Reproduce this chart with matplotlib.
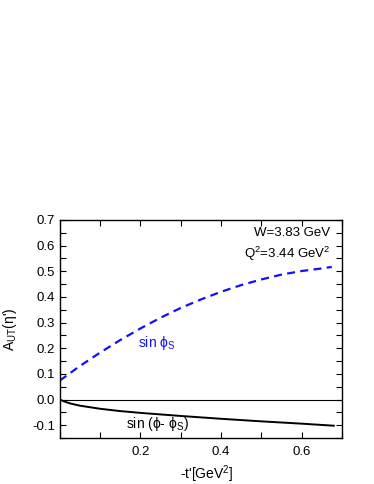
import matplotlib
matplotlib.use("Agg")
import matplotlib.pyplot as plt
from matplotlib.ticker import MultipleLocator, FormatStrFormatter

plt.rcParams["font.family"] = ["Liberation Sans", "DejaVu Sans"]
plt.rcParams["mathtext.fontset"] = "custom"
plt.rcParams["mathtext.rm"] = "Liberation Sans"
plt.rcParams["mathtext.it"] = "Liberation Sans:italic"

# values
t_sin_phis = [0.0, 0.05, 0.1, 0.15, 0.2, 0.25, 0.3, 0.35, 0.4, 0.45, 0.5, 0.55, 0.6, 0.65, 0.675]
a_sin_phis = [0.074, 0.131, 0.183, 0.232, 0.277, 0.319, 0.357, 0.390, 0.420, 0.446,
              0.468, 0.487, 0.501, 0.511, 0.517]

t_sin_diff = [0.0, 0.01, 0.025, 0.05, 0.1, 0.15, 0.2, 0.3, 0.4, 0.5, 0.6, 0.68]
a_sin_diff = [0.0, -0.007, -0.015, -0.024, -0.036, -0.045, -0.052, -0.064, -0.075,
              -0.085, -0.094, -0.102]

kin_labels = ["W=3.83 GeV", "Q$^{2}$=3.44 GeV$^{2}$"]

fig = plt.figure(figsize=(3.74, 4.84), dpi=100)
ax = fig.add_axes([0.160, 0.095, 0.754, 0.4505])

ax.plot(t_sin_phis, a_sin_phis, color="#1010ff", lw=1.6, dashes=(3.6, 2.4))
ax.plot(t_sin_diff, a_sin_diff, color="black", lw=1.4)
ax.axhline(0.0, color="black", lw=0.8)

ax.set_xlim(0, 0.7)
ax.set_ylim(-0.15, 0.7)
ax.xaxis.set_minor_locator(MultipleLocator(0.1))
ax.yaxis.set_major_locator(MultipleLocator(0.1))
ax.yaxis.set_minor_locator(MultipleLocator(0.05))
ax.set_xticks([0.2, 0.4, 0.6])
ax.tick_params(which="both", direction="in", top=True, right=True,
               length=4, width=0.8, labelsize=9.5)
ax.tick_params(axis="x", pad=6)
ax.yaxis.set_major_formatter(FormatStrFormatter("%.1f"))

ax.set_xlabel("-t'[GeV$^{2}$]", fontsize=10)
ax.xaxis.set_label_coords(0.52, -0.115)
ax.set_ylabel("A$_{\\rm UT}$(η')", fontsize=10)
ax.yaxis.set_label_coords(-0.145, 0.5)

ax.text(0.672, 0.637, kin_labels[0], ha="right", va="baseline", fontsize=9.5)
ax.text(0.672, 0.551, kin_labels[1], ha="right", va="baseline", fontsize=9.5)

ax.text(0.193, 0.205, "sin ϕ$_{\\rm S}$", color="#1010ff", fontsize=10, va="baseline")
ax.text(0.165, -0.11, "sin (ϕ- ϕ$_{\\rm S}$)", color="black", fontsize=10, va="baseline")

for s in ax.spines.values():
    s.set_linewidth(1.0)

fig.savefig("out.png", dpi=100)
